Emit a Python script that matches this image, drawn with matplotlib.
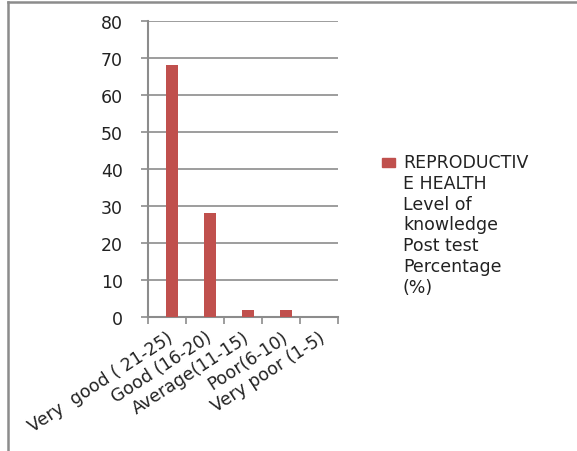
import matplotlib
matplotlib.use("Agg")
from matplotlib import pyplot as plt
from matplotlib.lines import Line2D
from matplotlib.patches import Rectangle
import numpy as np

categories = ['Very  good ( 21-25)', 'Good (16-20)', 'Average(11-15)', 'Poor(6-10)', 'Very poor (1-5)']
post_test_pct = [68, 28, 2, 2, 0]
legend_label = 'REPRODUCTIV\nE HEALTH\nLevel of\nknowledge\nPost test\nPercentage\n(%)'

bar_color = '#C0504D'
grey = '#8C8C8C'

plt.rcParams['font.family'] = ['DejaVu Sans']

fig = plt.figure(figsize=(5.77, 4.52), dpi=100)
ax = fig.add_axes([0.2565, 0.2965, 0.3293, 0.6548])

x = np.arange(len(categories))
ax.bar(x + 0.13, post_test_pct, width=0.3, color=bar_color, zorder=3)

ax.set_xlim(-0.5, len(categories) - 0.5)
ax.set_ylim(0, 80)
ax.set_yticks(range(0, 81, 10))
ax.set_xticks(np.arange(-0.5, len(categories), 1.0))
ax.set_xticklabels([])
ax.set_xticks(x, minor=True)
ax.set_xticklabels(categories, minor=True, rotation=33, ha='right', va='top',
                   rotation_mode='anchor', fontsize=12.5, color='#222222')
ax.tick_params(axis='x', which='minor', length=0, pad=8)
ax.tick_params(axis='x', which='major', length=5, width=1.2, color=grey, direction='out')
ax.tick_params(axis='y', length=5, width=1.2, color=grey, labelsize=12.5,
               labelcolor='#222222', pad=13)

ax.grid(axis='y', color=grey, linewidth=1.2, zorder=0)
for side in ['top', 'right']:
    ax.spines[side].set_visible(False)
for side in ['left', 'bottom']:
    ax.spines[side].set_color(grey)
    ax.spines[side].set_linewidth(1.5)

# legend drawn by hand so the key sits on the first line
fig.patches.append(Rectangle((382 / 577, 1 - 168 / 452), 13 / 577, 9 / 452,
                             transform=fig.transFigure, color=bar_color))
fig.text(403 / 577, 1 - 154 / 452, legend_label, ha='left', va='top',
         fontsize=12.5, linespacing=1.2, color='#222222')

# outer frame (top and left edges)
fig.add_artist(Line2D([8 / 577, 1.0], [1 - 3 / 452, 1 - 3 / 452],
                      transform=fig.transFigure, color=grey, linewidth=1.8))
fig.add_artist(Line2D([8 / 577, 8 / 577], [0.0, 1 - 3 / 452],
                      transform=fig.transFigure, color=grey, linewidth=1.8))

fig.savefig('out.png', dpi=100)
